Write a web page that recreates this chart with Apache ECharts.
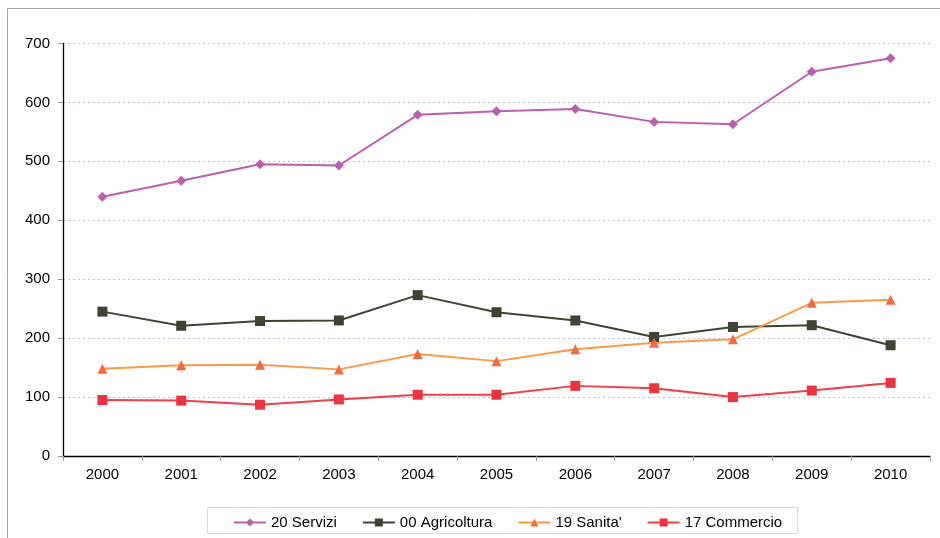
<!DOCTYPE html>
<html>
<head>
<meta charset="utf-8">
<script src="https://cdn.jsdelivr.net/npm/echarts@6/dist/echarts.min.js"></script>
<style>
  html, body { margin: 0; padding: 0; background: #fff; }
  #chart { width: 940px; height: 538px; }
</style>
</head>
<body>
<div id="chart"></div>
<script>
// Years on the category axis
const years = ['2000', '2001', '2002', '2003', '2004', '2005', '2006', '2007', '2008', '2009', '2010'];

// Series values per year
const servizi     = [440, 467, 495, 493, 579, 585, 589, 567, 563, 652, 675];
const agricoltura = [245, 221, 229, 230, 273, 244, 230, 202, 219, 222, 188];
const sanita      = [148, 154, 155, 147, 173, 161, 181, 192, 198, 260, 265];
const commercio   = [95, 94, 87, 96, 104, 104, 119, 115, 100, 111, 124];

// Value axis ticks
const yTicks = [0, 100, 200, 300, 400, 500, 600, 700];

const FONT = '"Liberation Sans", Arial, sans-serif';

function line(name, data, lineColor, markColor, symbol, size) {
  return {
    name: name,
    type: 'line',
    data: data,
    symbol: symbol,
    symbolSize: size,
    lineStyle: { color: lineColor, width: 2 },
    itemStyle: { color: markColor },
    emphasis: { disabled: true },
    animation: false
  };
}

const chart = echarts.init(document.getElementById('chart'), null, { renderer: 'canvas' });
chart.setOption({
  animation: false,
  backgroundColor: '#fff',
  textStyle: { fontFamily: FONT },
  graphic: [{
    type: 'rect',
    shape: { x: 7.5, y: 8.5, width: 960, height: 560 },
    style: { fill: 'none', stroke: '#a6a6a6', lineWidth: 1 },
    silent: true
  }, {
    type: 'rect',
    shape: { x: 207.5, y: 507.5, width: 590, height: 26 },
    style: { fill: 'none', stroke: '#dcdcdc', lineWidth: 1 },
    silent: true
  }],
  grid: { left: 63, right: 10, top: 43.5, bottom: 82, containLabel: false },
  legend: {
    left: 228,
    top: 510,
    itemWidth: 32,
    itemHeight: 10,
    itemGap: 25,
    textStyle: { fontFamily: FONT, fontSize: 15, color: '#000' },
    data: ['20 Servizi', '00 Agricoltura', "19 Sanita'", '17 Commercio']
  },
  xAxis: {
    type: 'category',
    data: years,
    boundaryGap: true,
    axisLine: { lineStyle: { color: '#000', width: 1.3 } },
    axisTick: { show: true, length: 5, lineStyle: { color: '#999' } },
    axisLabel: { color: '#000', fontSize: 15, margin: 11, fontFamily: FONT },
    splitLine: { show: false }
  },
  yAxis: {
    type: 'value',
    min: yTicks[0],
    max: yTicks[yTicks.length - 1],
    interval: 100,
    axisLine: { show: true, lineStyle: { color: '#000', width: 1.3 } },
    axisTick: { show: true, length: 5, lineStyle: { color: '#999' } },
    axisLabel: { color: '#000', fontSize: 15, margin: 13, fontFamily: FONT },
    splitLine: { show: true, lineStyle: { color: '#b8c4dc', type: [2, 3], width: 1 } }
  },
  series: [
    line('20 Servizi', servizi, '#b95fae', '#b95fae', 'diamond', 10),
    line('00 Agricoltura', agricoltura, '#3c4534', '#3c4534', 'rect', 10),
    line("19 Sanita'", sanita, '#f89a48', '#f26a3f', 'triangle', 10),
    line('17 Commercio', commercio, '#ee3f4a', '#ee3340', 'rect', 10)
  ]
});
</script>
</body>
</html>
